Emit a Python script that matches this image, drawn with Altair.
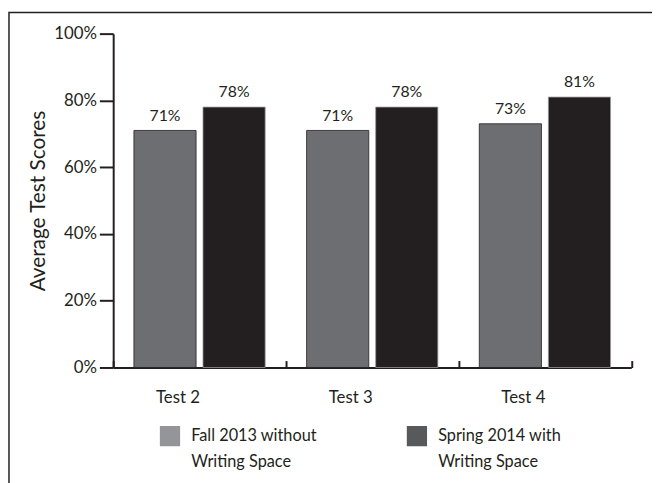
import altair as alt
import pandas as pd

tests = ["Test 2", "Test 3", "Test 4"]
series_names = ["Fall 2013 without|Writing Space", "Spring 2014 with|Writing Space"]
fall_scores = [71, 71, 73]
spring_scores = [78, 78, 81]
bar_colors = ["#6d6e71", "#231f20"]
legend_colors = ["#939598", "#58595b"]
y_ticks = [0, 20, 40, 60, 80, 100]

rows = []
for t, f, s in zip(tests, fall_scores, spring_scores):
    rows.append({"test": t, "series": series_names[0], "score": f})
    rows.append({"test": t, "series": series_names[1], "score": s})
df = pd.DataFrame(rows)

FONT = "Lato"
WEIGHT = 400
INK = "#231f20"
W, H = 524.5, 338

x_enc = alt.X(
    "test:N",
    sort=tests,
    scale=alt.Scale(paddingInner=0, paddingOuter=0),
    axis=alt.Axis(
        title=None,
        labelAngle=0,
        labelFont=FONT,
        labelFontSize=17,
        labelFontWeight=WEIGHT,
        labelColor=INK,
        labelPadding=37,
        tickBand="extent",
        tickSize=alt.ExprRef("-7"),
        tickWidth=2,
        tickColor=INK,
        domainWidth=2,
        domainColor=INK,
    ),
)
xoff = alt.XOffset(
    "series:N",
    sort=series_names,
    scale=alt.Scale(paddingInner=0.1, paddingOuter=0.3),
)
y_enc = alt.Y(
    "score:Q",
    scale=alt.Scale(domain=[0, 100], nice=False),
    axis=alt.Axis(
        title="Average Test Scores",
        titleFont=FONT,
        titleFontSize=21,
        titleFontWeight=WEIGHT,
        titleColor=INK,
        titlePadding=5,
        values=y_ticks,
        labelExpr="datum.value + '%'",
        labelFont=FONT,
        labelFontSize=17,
        labelFontWeight=WEIGHT,
        labelColor=INK,
        labelPadding=3,
        tickSize=14,
        tickWidth=2,
        tickColor=INK,
        domainWidth=2,
        domainColor=INK,
        grid=False,
    ),
)

base = alt.Chart(df)

legend_layer = base.mark_square(opacity=0).encode(
    x=alt.X("test:N", sort=tests),
    xOffset=alt.XOffset("series:N", sort=series_names),
    y="score:Q",
    color=alt.Color(
        "series:N",
        sort=series_names,
        scale=alt.Scale(domain=series_names, range=legend_colors),
        legend=alt.Legend(
            title=None,
            orient="none",
            legendX=47,
            legendY=397,
            direction="horizontal",
            columns=2,
            columnPadding=90,
            symbolType="square",
            symbolSize=420,
            symbolStrokeWidth=0,
            symbolOpacity=1,
            labelExpr="split(datum.label, '|')",
            labelFont=FONT,
            labelFontSize=16.5,
            labelFontWeight=WEIGHT,
            labelColor=INK,
            labelOffset=11,
            labelLimit=300,
        ),
    ),
)

bars = base.mark_bar(strokeWidth=0.8).encode(
    x=x_enc,
    xOffset=xoff,
    y=y_enc,
    fill=alt.Fill(
        "series:N",
        sort=series_names,
        scale=alt.Scale(domain=series_names, range=bar_colors),
        legend=None,
    ),
    stroke=alt.Stroke(
        "series:N",
        sort=series_names,
        scale=alt.Scale(domain=series_names, range=[INK, "#9a9a9a"]),
        legend=None,
    ),
)

labels = base.mark_text(
    baseline="bottom", dy=-7, font=FONT, fontSize=16, fontWeight=WEIGHT, color=INK
).encode(
    x=alt.X("test:N", sort=tests),
    xOffset=alt.XOffset("series:N", sort=series_names),
    y="score:Q",
    text=alt.Text("label:N"),
).transform_calculate(label="datum.score + '%'")

frame = alt.Chart(pd.DataFrame({"a": [0]})).mark_rect(
    fill=None, stroke=INK, strokeWidth=1.5
).encode(
    x=alt.value(-105.5),
    x2=alt.value(W + 80),
    y=alt.value(-21.5),
    y2=alt.value(H + 140),
)

chart = (
    alt.layer(frame, legend_layer, bars, labels)
    .properties(
        width=W,
        height=H,
        autosize=alt.AutoSizeParams(type="none"),
        padding={"left": 106.5, "top": 23, "right": 21, "bottom": 114},
    )
    .configure(
        background="white",
        view=alt.ViewConfig(strokeWidth=0),
        style={"guide-label": {"lineHeight": 26}},
    )
)

chart.save("out.html", embed_options={"renderer": "svg", "actions": False})
